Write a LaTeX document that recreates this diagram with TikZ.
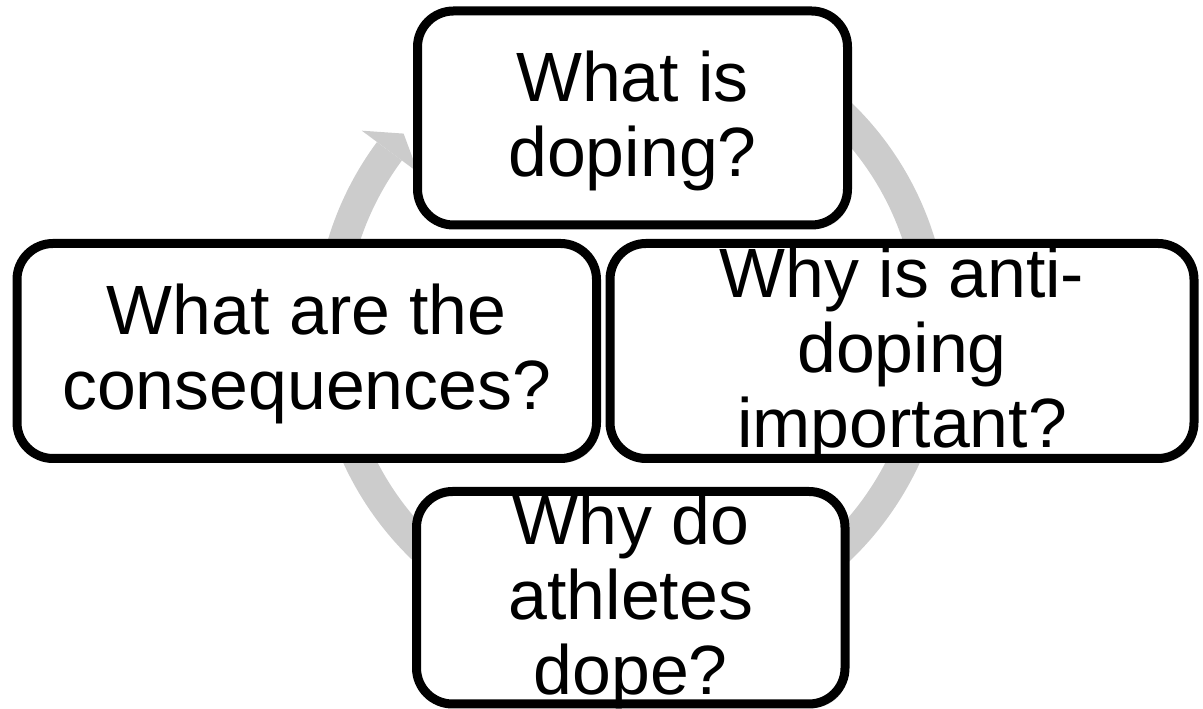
\documentclass[tikz,border=0pt]{standalone}
\usepackage{fontspec}
\setmainfont{Liberation Sans}
\usetikzlibrary{shadows}
\definecolor{ringgray}{RGB}{204,204,204}
\tikzset{
  qbox/.style={draw=black, line width=9pt, rounded corners=36pt, fill=white,
    rectangle, inner sep=0pt, outer sep=0pt,
    drop shadow={shadow xshift=3pt, shadow yshift=-4pt, fill=black, opacity=0.18}},
  qline/.style={anchor=base, inner sep=0pt, font=\fontsize{69.8}{75}\selectfont},
  ring/.style={draw=ringgray, line width=31pt},
  ringhead/.style={fill=ringgray, draw=none}
}
\begin{document}
\begin{tikzpicture}[x=1pt,y=1pt]
\useasboundingbox (0,0) rectangle (1203,709);
% ring
\coordinate (c) at (631.5,378);
\draw[ring] ([shift={(60:301.5pt)}]c) arc[start angle=60, end angle=-216.6, radius=301.5pt];
\fill[ringhead] ([shift={(143.4:266pt)}]c) -- ([shift={(143.4:336pt)}]c) -- ([shift={(139.1:301.5pt)}]c) -- cycle;
% boxes
\node[qbox, minimum width=430pt, minimum height=214pt] (top) at (632.5,591) {};
\node[qbox, minimum width=579.5pt, minimum height=215pt] (left) at (306.75,358) {};
\node[qbox, minimum width=584pt, minimum height=215pt] (right) at (902,358) {};
\node[qbox, minimum width=428.5pt, minimum height=212.5pt] (bottom) at (630.75,111.25) {};
% texts
\node[qline] (t1) at ([yshift=16pt]top.center) {What is};
\node[qline] (t2) at ([yshift=-59pt]top.center) {doping?};
\node[qline] (l1) at ([yshift=16pt]left.center) {What are the};
\node[qline] (l2) at ([yshift=-59pt]left.center) {consequences?};
\node[qline] (r1) at ([yshift=53.5pt]right.center) {Why is anti-};
\node[qline] (r2) at ([yshift=-21.5pt]right.center) {doping};
\node[qline] (r3) at ([yshift=-96.5pt]right.center) {important?};
\node[qline] (b1) at ([yshift=53.5pt]bottom.center) {Why do};
\node[qline] (b2) at ([yshift=-21.5pt]bottom.center) {athletes};
\node[qline] (b3) at ([yshift=-96.5pt]bottom.center) {dope?};
\end{tikzpicture}
\end{document}
